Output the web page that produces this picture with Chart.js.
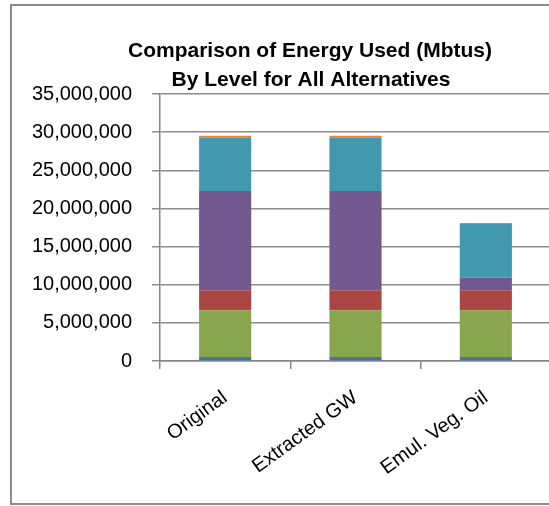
<!DOCTYPE html>
<html>
<head>
<meta charset="utf-8">
<script src="https://cdn.jsdelivr.net/npm/chart.js@4/dist/chart.umd.min.js"></script>
<style>
  html, body { margin: 0; padding: 0; background: #fff; overflow: hidden; }
  #wrap { width: 560px; height: 506px; }
</style>
</head>
<body>
<div id="wrap"><canvas id="energy-chart" width="560" height="506"></canvas></div>
<script>
// 카테고리와 시리즈 값 (Mbtus)
const alternatives = ['Original', 'Extracted GW', 'Emul. Veg. Oil'];
const level1 = [530000, 530000, 530000];
const level2 = [6130000, 6130000, 6130000];
const level3 = [2630000, 2630000, 2630000];
const level4 = [13000000, 13000000, 1660000];
const level5 = [7010000, 7010000, 7010000];
const level6 = [220000, 220000, 130000];
const yTicks = [0, 5000000, 10000000, 15000000, 20000000, 25000000, 30000000, 35000000];
const titleLines = ['Comparison of Energy Used (Mbtus)', 'By Level for All Alternatives'];

const FONT = '"Liberation Sans", Arial, sans-serif';

// 제목과 바깥 테두리 그리기
const frameAndTitle = {
    id: 'frameAndTitle',
    afterDraw(chart) {
        const ctx = chart.ctx;
        ctx.save();
        ctx.strokeStyle = '#8a8a8a';
        ctx.lineWidth = 2;
        ctx.strokeRect(11, 5, 600, 499);

        ctx.fillStyle = '#000';
        ctx.font = 'bold 21px ' + FONT;
        ctx.textAlign = 'center';
        ctx.textBaseline = 'alphabetic';
        ctx.fillText(titleLines[0], 310, 57);
        ctx.fillText(titleLines[1], 311, 86);
        ctx.restore();
    }
};

function makeSet(label, data, color) {
    return {
        label: label,
        data: data,
        backgroundColor: color,
        borderWidth: 0,
        barPercentage: 0.4,
        categoryPercentage: 1.0
    };
}

const ctx = document.getElementById('energy-chart').getContext('2d');
new Chart(ctx, {
    type: 'bar',
    data: {
        labels: alternatives,
        datasets: [
            makeSet('Level 1', level1, '#4572A7'),
            makeSet('Level 2', level2, '#89A54E'),
            makeSet('Level 3', level3, '#AA4643'),
            makeSet('Level 4', level4, '#71588F'),
            makeSet('Level 5', level5, '#4198AF'),
            makeSet('Level 6', level6, '#DB843D')
        ]
    },
    options: {
        responsive: false,
        animation: false,
        layout: { padding: { left: 10, top: 94, right: 9, bottom: 0 } },
        plugins: {
            legend: { display: false },
            title: { display: false },
            tooltip: { enabled: false }
        },
        scales: {
            x: {
                stacked: true,
                afterFit: s => { s.height = 145; },
                border: { color: '#868686', width: 1.5 },
                grid: {
                    offset: true,
                    drawOnChartArea: false,
                    drawTicks: true,
                    tickLength: 8,
                    color: '#868686',
                    lineWidth: 1.5
                },
                ticks: {
                    color: '#000',
                    font: { family: FONT, size: 20 },
                    minRotation: 36,
                    maxRotation: 36,
                    padding: 17
                }
            },
            y: {
                stacked: true,
                min: 0,
                max: 35000000,
                afterFit: s => { s.width = 150; },
                afterBuildTicks: s => { s.ticks = yTicks.map(v => ({ value: v })); },
                border: { color: '#868686', width: 1.5 },
                grid: {
                    color: '#8c8c8c',
                    lineWidth: 1.5,
                    tickLength: 8
                },
                ticks: {
                    color: '#000',
                    font: { family: FONT, size: 20 },
                    padding: 20,
                    callback: v => v.toLocaleString('en-US')
                }
            }
        }
    },
    plugins: [frameAndTitle]
});
</script>
</body>
</html>
